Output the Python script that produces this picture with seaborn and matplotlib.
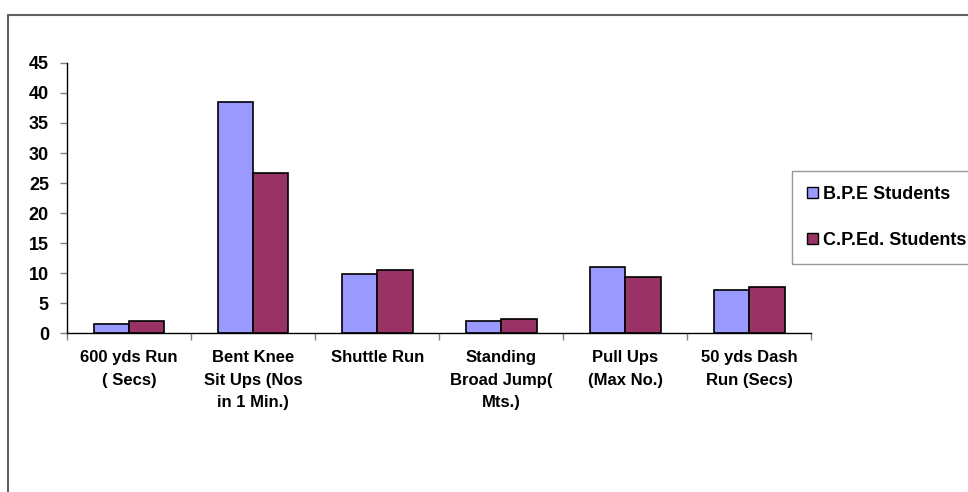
import pandas as pd
import matplotlib.pyplot as plt
import seaborn as sns
from matplotlib.lines import Line2D

# ---------- DATA ----------
tests = [
    "600 yds Run\n( Secs)",
    "Bent Knee\nSit Ups (Nos\nin 1 Min.)",
    "Shuttle Run",
    "Standing\nBroad Jump(\nMts.)",
    "Pull Ups\n(Max No.)",
    "50 yds Dash\nRun (Secs)",
]
groups = ["B.P.E Students", "C.P.Ed. Students"]
bpe_values = [1.55, 38.5, 9.8, 2.0, 11.0, 7.2]
cped_values = [1.95, 26.7, 10.5, 2.35, 9.4, 7.6]
colors = ["#9999FF", "#993366"]
# --------------------------

df = pd.DataFrame({
    "test": tests * 2,
    "group": [groups[0]] * len(tests) + [groups[1]] * len(tests),
    "value": bpe_values + cped_values,
})

sns.set_style("white")
plt.rcParams["font.family"] = ["Liberation Sans", "DejaVu Sans"]
plt.rcParams["font.weight"] = "bold"
plt.rcParams["text.color"] = "black"
plt.rcParams["xtick.color"] = "black"
plt.rcParams["ytick.color"] = "black"

fig = plt.figure(figsize=(9.68, 4.92), dpi=100)
ax = fig.add_axes([0.0692, 0.323, 0.769, 0.549])

sns.barplot(
    data=df, x="test", y="value", hue="group", order=tests, hue_order=groups,
    palette=colors, width=0.57, gap=0, edgecolor="black", linewidth=1.2,
    saturation=1, ax=ax, legend=False,
)

ax.set_xlim(-0.5, len(tests) - 0.5)
ax.set_ylim(0, 45)
ax.set_yticks(range(0, 46, 5))
ax.set_xlabel("")
ax.set_ylabel("")
ax.set_xticks(range(len(tests)))
ax.set_xticklabels(tests, fontsize=12, fontweight="bold", linespacing=1.65)
ax.set_xticks([i - 0.5 for i in range(len(tests) + 1)], minor=True)
ax.tick_params(axis="x", which="major", bottom=True, length=0, pad=12)
ax.tick_params(axis="x", which="minor", bottom=True, length=5, width=1,
               color="#808080", direction="out")
ax.tick_params(axis="y", left=True, length=5, width=1, color="#808080",
               direction="out", pad=8, labelsize=13)
for lab in ax.get_yticklabels():
    lab.set_fontweight("bold")

sns.despine(ax=ax)
ax.spines["left"].set_color("black")
ax.spines["bottom"].set_color("black")
ax.spines["left"].set_linewidth(1)
ax.spines["bottom"].set_linewidth(1)

# legend
handles = [plt.Rectangle((0, 0), 1, 1, facecolor=c, edgecolor="black", linewidth=1)
           for c in colors]
leg = fig.legend(
    handles, groups, loc="upper left", bbox_to_anchor=(0.818, 0.653),
    frameon=True, fancybox=False, edgecolor="#808080", handlelength=0.6,
    handleheight=0.6, handletextpad=0.25, labelspacing=1.6, borderpad=0.85,
    borderaxespad=0, prop={"size": 13, "weight": "bold"},
)
leg.get_frame().set_linewidth(1)

# outer chart border (left and top edges visible)
fig.add_artist(Line2D([0.0083, 0.0083], [0, 0.97], transform=fig.transFigure,
                      color="#606060", linewidth=1.5))
fig.add_artist(Line2D([0.0083, 1.0], [0.97, 0.97], transform=fig.transFigure,
                      color="#606060", linewidth=1.5))

fig.savefig("out.png", dpi=100)
